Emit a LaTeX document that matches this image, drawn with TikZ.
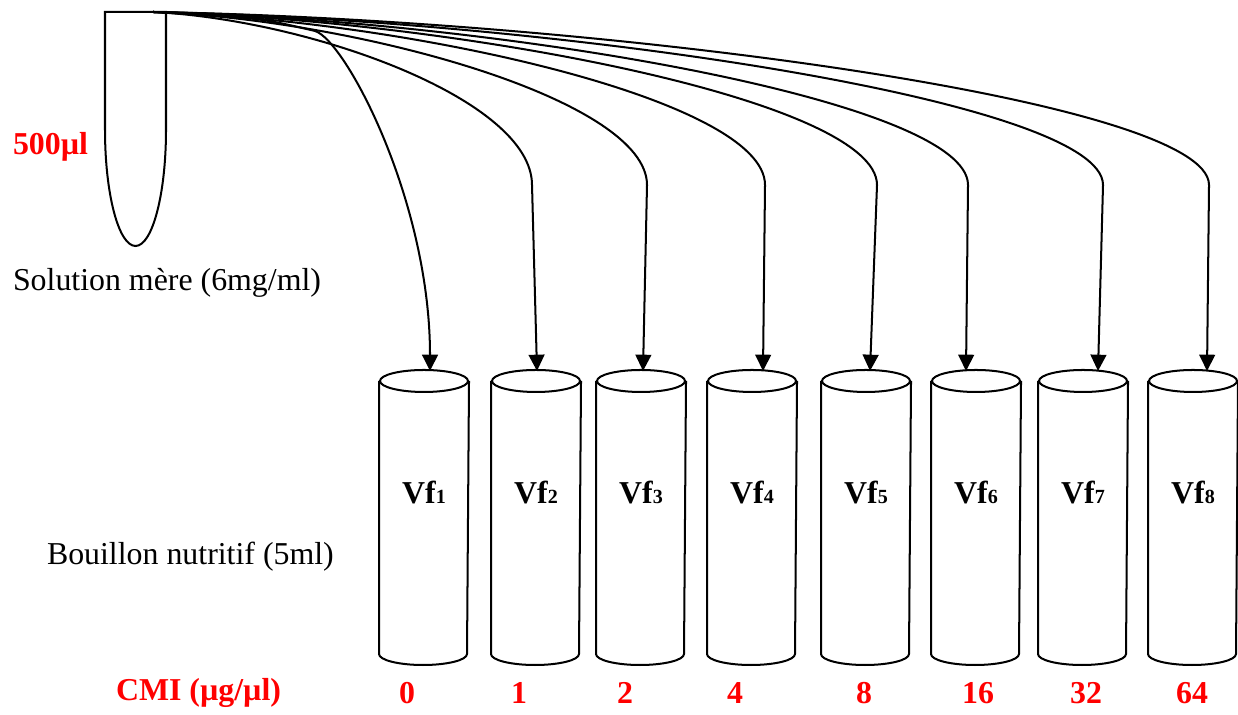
\documentclass[tikz,border=0pt]{standalone}
\usepackage{fontspec}
\setmainfont{Liberation Serif}
\usetikzlibrary{arrows.meta}
\def\unit{0.014cm}

\begin{document}
\begin{tikzpicture}[x=\unit, y=\unit, line width=0.8pt, font=\fontsize{12.7}{15}\selectfont]
    \tikzstyle{every node}=[inner sep=0pt]
    \tikzstyle{tube}=[minimum width=88*\unit, minimum height=271*\unit]
    \tikzstyle{flow}=[-{Triangle[length=6.5pt,width=6.3pt]}]
    \tikzstyle{dose}=[text=red, font=\fontsize{12.7}{15}\selectfont\bfseries]
    \tikzstyle{vf}=[font=\fontsize{12.7}{15}\selectfont\bfseries]

    \useasboundingbox (0,0) rectangle (1238,715);

    % stock tube
    \draw (105,703) -- (105,585) arc (180:360:30.5 and 116) -- (166,703) -- cycle;
    \coordinate (src) at (153,703);

    \node[dose, anchor=west] (vol) at (12,568) {500µl};
    \node[anchor=west] (mere) at (12,432) {Solution mère (6mg/ml)};
    \node[anchor=west] (bouillon) at (46,158) {Bouillon nutritif (5ml)};
    \node[dose, anchor=west] (cmi) at (115,22) {CMI (µg/µl)};

    % tubes of broth, labels and concentrations
    \foreach \i/\x/\cx/\c in {1/424/407/0, 2/536/519/1, 3/641/625/2, 4/752/735/4,
                              5/866/864/8, 6/976/978/16, 7/1083/1086/32, 8/1193/1192/64}{
        \node[tube] (vf\i) at (\x,197.5) {};
        \draw (vf\i.north west) -- (vf\i.south west) arc (180:360:44 and 11) -- (vf\i.north east);
        \draw (vf\i.north) ellipse (44 and 11);
        \coordinate (top\i) at (\x,344);
        \node[vf] (lab\i) at (\x,222) {Vf{\fontsize{8}{8}\selectfont\i}};
        \node[dose] (c\i) at (\cx,22) {\c};
        }

    % transfers from the stock
    \draw[flow] (src) .. controls (260,697) .. (315,684) .. controls (345,675) and (430,515) .. (430,0 |- top1);
    \foreach \i/\xt/\xb in {2/532/537, 3/647/643, 4/765/763, 5/877/870, 6/968/966, 7/1103/1098, 8/1209/1207}{
        \pgfmathsetmacro\cx{153+0.42*(\xt-153)}
        \draw[flow] (src) .. controls (\cx,695) and (\xt,615) .. (\xt,530) -- (\xb,0 |- top\i);
        }
\end{tikzpicture}
\end{document}
